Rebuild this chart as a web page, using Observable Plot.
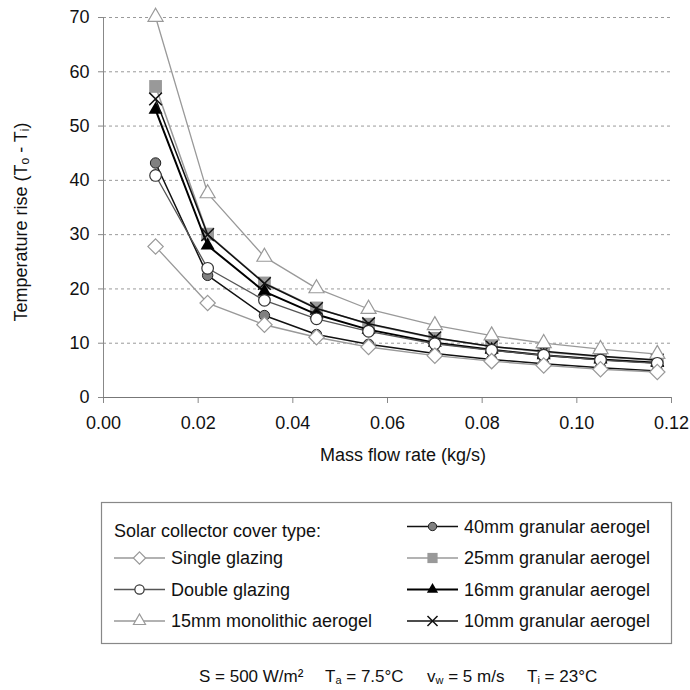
<!DOCTYPE html>
<html><head><meta charset="utf-8">
<script src="https://cdn.jsdelivr.net/npm/d3@7"></script>
<script src="https://cdn.jsdelivr.net/npm/@observablehq/plot@0.6"></script>
<style>
body{margin:0;background:#fff}
#chart{position:relative;width:690px;height:690px;font-family:"Liberation Sans",Arial,sans-serif;color:#111}
#chart svg{display:block}
#legend{position:absolute;left:0;top:480px}
</style>
</head><body><div id="chart"></div>
<script>
// ---- data ----
const flow = [0.011, 0.022, 0.034, 0.045, 0.056, 0.070, 0.082, 0.093, 0.105, 0.117];
const singleGlazing = [27.8, 17.4, 13.4, 11.1, 9.3, 7.7, 6.7, 5.9, 5.2, 4.7];
const doubleGlazing = [40.9, 23.8, 17.9, 14.5, 12.2, 9.9, 8.7, 7.8, 6.9, 6.3];
const mono15 = [70.1, 37.6, 25.9, 20.1, 16.3, 13.3, 11.4, 10.0, 8.9, 8.0];
const gran40 = [43.2, 22.5, 15.1, 11.6, 9.8, 8.1, 7.0, 6.2, 5.5, 4.9];
const gran25 = [57.3, 30.1, 21.1, 16.5, 13.5, 10.9, 9.4, 8.4, 7.5, 6.8];
const gran16 = [53.0, 28.0, 19.5, 15.3, 12.5, 10.1, 8.8, 7.8, 7.0, 6.4];
const gran10 = [55.0, 30.0, 21.0, 16.4, 13.6, 11.0, 9.4, 8.5, 7.6, 6.9];
const xTicks = [0, 0.02, 0.04, 0.06, 0.08, 0.10, 0.12];
const yTicks = [0, 10, 20, 30, 40, 50, 60, 70];
const legendTitle = "Solar collector cover type:";
const xLabel = "Mass flow rate (kg/s)";

// ---- styles ----
const series = [
  {name:"40mm granular aerogel", values:gran40, line:"#111", lw:1.5, symbol:"circle", r:5.2, fill:"#808080", stroke:"#222", sw:1},
  {name:"25mm granular aerogel", values:gran25, line:"#9a9a9a", lw:1.5, symbol:"square", r:7.2, fill:"#999", stroke:"none", sw:0},
  {name:"16mm granular aerogel", values:gran16, line:"#000", lw:2, symbol:"triangle", r:5.2, fill:"#000", stroke:"none", sw:0},
  {name:"10mm granular aerogel", values:gran10, line:"#111", lw:1.5, symbol:"times", r:5.8, fill:"none", stroke:"#111", sw:1.5},
  {name:"15mm monolithic aerogel", values:mono15, line:"#999", lw:1.3, symbol:"triangle2", r:7.2, fill:"white", stroke:"#999", sw:1.2},
  {name:"Double glazing", values:doubleGlazing, line:"#555", lw:1.3, symbol:"circle", r:5.8, fill:"white", stroke:"#333", sw:1.2},
  {name:"Single glazing", values:singleGlazing, line:"#999", lw:1.3, symbol:"diamond2", r:6.9, fill:"white", stroke:"#999", sw:1.2}
];

const marks = [
  Plot.gridY(yTicks.filter(d => d > 0), {stroke:"#9a9a9a", strokeOpacity:1, strokeDasharray:"3,3"}),
  Plot.axisY(yTicks, {tickSize:5, tickPadding:9, stroke:"#888", fill:"#111", label:null}),
  Plot.axisX(xTicks, {tickSize:6, tickPadding:13, stroke:"#888", fill:"#111", label:null, tickFormat:d => d.toFixed(2)}),
  Plot.ruleX([0], {stroke:"#888"}),
  Plot.ruleY([0], {stroke:"#777"})
];
for (const s of series) {
  const rows = flow.map((f, i) => ({x:f, y:s.values[i]}));
  marks.push(Plot.line(rows, {x:"x", y:"y", stroke:s.line, strokeWidth:s.lw}));
  marks.push(Plot.dot(rows, {x:"x", y:"y", symbol:() => s.symbol, r:s.r, fill:s.fill, stroke:s.stroke, strokeWidth:s.sw}));
}

const plot = Plot.plot({
  width:690, height:480,
  marginLeft:103, marginRight:19, marginTop:17, marginBottom:83,
  style:{fontFamily:'"Liberation Sans", Arial, sans-serif', fontSize:"18px", background:"white", color:"#111", overflow:"visible"},
  x:{domain:[0, 0.12]},
  y:{domain:[0, 70]},
  symbol:{type:"identity"},
  marks
});
document.getElementById("chart").appendChild(plot);

// axis titles
const svg = d3.select(plot);
const yl = svg.append("text").attr("transform", "translate(21,222) rotate(-90)")
  .attr("text-anchor", "middle").attr("dominant-baseline", "central")
  .attr("font-size", 18).attr("fill", "#111");
yl.append("tspan").text("Temperature rise (T");
yl.append("tspan").attr("font-size", 12).attr("dy", 4).text("o");
yl.append("tspan").attr("dy", -4).text(" - T");
yl.append("tspan").attr("font-size", 12).attr("dy", 4).text("i");
yl.append("tspan").attr("dy", -4).text(")");
svg.append("text").attr("x", 403).attr("y", 455).attr("text-anchor", "middle")
  .attr("dominant-baseline", "central").attr("font-size", 18).attr("fill", "#111").text(xLabel);

// legend + caption
const L = d3.select("#chart").append("svg").attr("id", "legend").attr("width", 690).attr("height", 210)
  .style("font-family", '"Liberation Sans", Arial, sans-serif').style("font-size", "18px");
const oy = -480;
L.append("rect").attr("x", 101.5).attr("y", 502.5 + oy).attr("width", 570).attr("height", 141)
  .attr("fill", "white").attr("stroke", "#888").attr("stroke-width", 1.2);
L.append("text").attr("x", 114).attr("y", 531 + oy).attr("dominant-baseline", "central").attr("fill", "#111").text(legendTitle);
const symType = {circle:d3.symbolCircle, square:d3.symbolSquare, triangle:d3.symbolTriangle, times:d3.symbolTimes, triangle2:d3.symbolTriangle2, diamond2:d3.symbolDiamond2};
const byName = Object.fromEntries(series.map(s => [s.name, s]));
const leftCol = ["Single glazing", "Double glazing", "15mm monolithic aerogel"];
const rightCol = ["40mm granular aerogel", "25mm granular aerogel", "16mm granular aerogel", "10mm granular aerogel"];
function entry(name, x0, y) {
  const s = byName[name];
  const k = 0.8;
  L.append("line").attr("x1", x0).attr("x2", x0 + 51).attr("y1", y + oy).attr("y2", y + oy)
    .attr("stroke", s.line).attr("stroke-width", s.lw);
  L.append("path").attr("d", d3.symbol(symType[s.symbol], Math.PI * s.r * s.r * k * k)())
    .attr("transform", `translate(${x0 + 25.5},${y + oy})`)
    .attr("fill", s.fill).attr("stroke", s.stroke).attr("stroke-width", s.sw);
  L.append("text").attr("x", x0 + 57).attr("y", y + oy).attr("dominant-baseline", "central").attr("fill", "#111").text(name);
}
leftCol.forEach((n, i) => entry(n, 114, 558 + i * 31.5));
rightCol.forEach((n, i) => entry(n, 407, 526.5 + i * 31.5));

const cap = L.append("text").attr("y", 676 + oy).attr("dominant-baseline", "central").attr("fill", "#111").attr("font-size", 17);
function capPart(x, main, sub, rest) {
  cap.append("tspan").attr("x", x).attr("dy", 0).text(main);
  if (sub) {
    cap.append("tspan").attr("font-size", 11).attr("dy", 4).text(sub);
    cap.append("tspan").attr("dy", -4).text(rest);
  }
}
capPart(199, "S = 500 W/m²");
capPart(325, "T", "a", " = 7.5°C");
capPart(427, "v", "w", " = 5 m/s");
capPart(527, "T", "i", " = 23°C");
</script></body></html>
